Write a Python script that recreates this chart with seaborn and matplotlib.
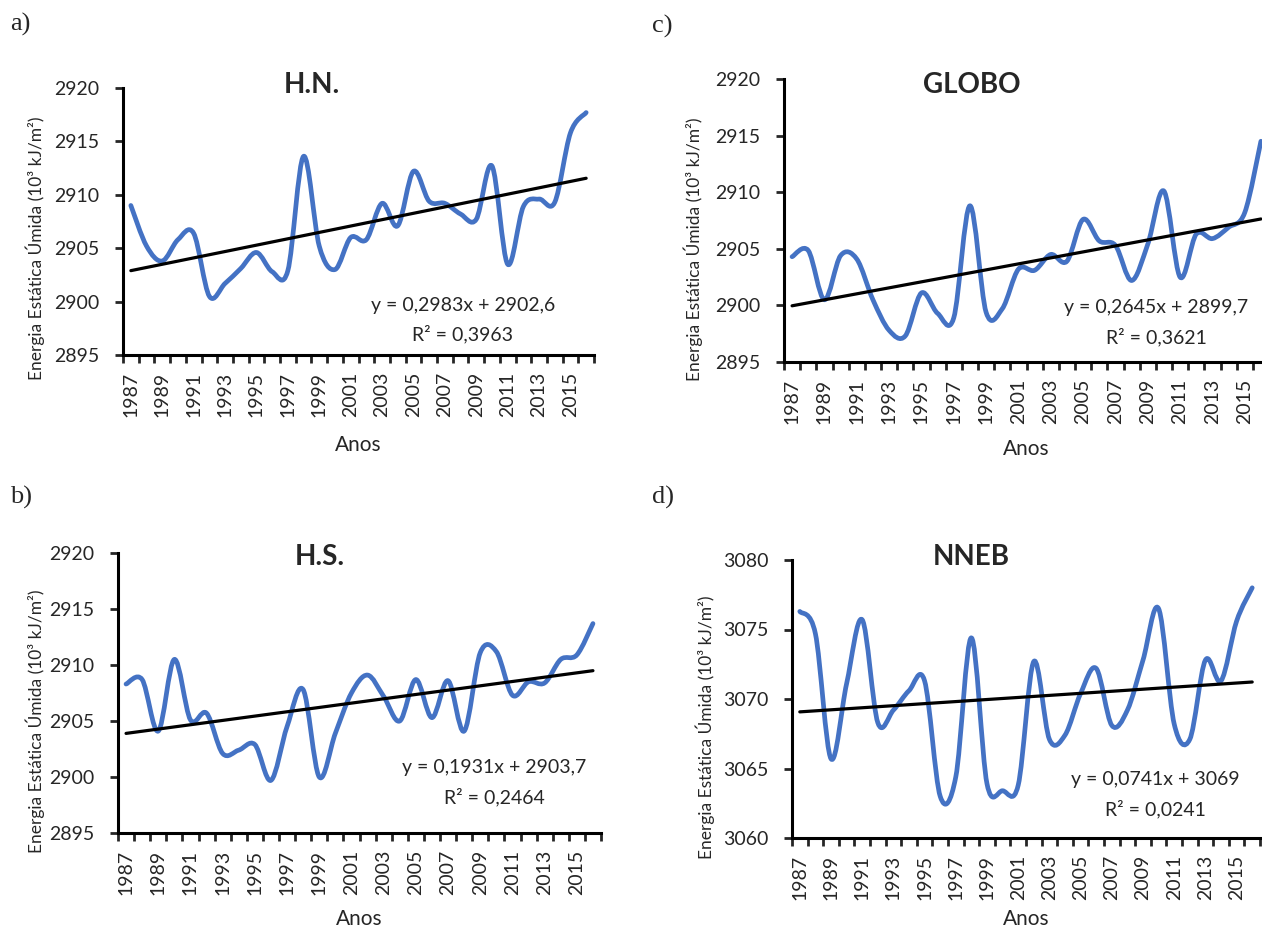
import numpy as np
import pandas as pd
import seaborn as sns
import matplotlib.pyplot as plt
from matplotlib.path import Path
from matplotlib.patches import PathPatch

# anos 1987-2016
years = np.arange(1987, 2017)

# energia estática úmida (10^3 kJ/m2)
hn = [2909.0, 2905.2, 2903.8, 2905.8, 2906.4, 2900.5, 2901.7, 2903.1, 2904.6, 2902.8,
      2902.9, 2913.6, 2905.2, 2903.0, 2906.0, 2905.8, 2909.2, 2907.1, 2912.2, 2909.4,
      2909.2, 2908.2, 2907.7, 2912.7, 2903.5, 2908.9, 2909.6, 2909.3, 2915.8, 2917.7]
hs = [2908.3, 2908.7, 2904.1, 2910.5, 2905.1, 2905.7, 2902.1, 2902.4, 2902.9, 2899.7,
      2904.5, 2907.8, 2900.0, 2903.9, 2907.5, 2909.1, 2907.2, 2905.0, 2908.7, 2905.3,
      2908.6, 2904.1, 2911.1, 2911.2, 2907.3, 2908.5, 2908.4, 2910.5, 2910.9, 2913.7]
globo = [2904.3, 2904.85, 2900.5, 2904.4, 2904.1, 2900.5, 2897.8, 2897.3, 2901.1, 2899.3,
         2898.9, 2908.8, 2899.4, 2899.7, 2903.2, 2903.1, 2904.5, 2903.9, 2907.6, 2905.7,
         2905.3, 2902.2, 2905.4, 2910.1, 2902.5, 2906.3, 2905.9, 2906.9, 2908.2, 2914.5]
nneb = [3076.3, 3074.7, 3065.7, 3071.1, 3075.7, 3068.3, 3069.2, 3070.6, 3071.3, 3063.0,
        3064.4, 3074.4, 3063.9, 3063.4, 3063.8, 3072.7, 3067.1, 3067.4, 3070.4, 3072.2,
        3068.1, 3069.2, 3072.8, 3076.5, 3068.2, 3067.1, 3072.8, 3071.3, 3075.6, 3078.0]

# tendência linear (x = 1..30), como nas equações do gráfico
slopes = [0.2983, 0.1931, 0.2645, 0.0741]
intercepts = [2902.6, 2903.7, 2899.7, 3069]
r2_labels = ["0,3963", "0,2464", "0,3621", "0,0241"]
eq_labels = ["y = 0,2983x + 2902,6", "y = 0,1931x + 2903,7",
             "y = 0,2645x + 2899,7", "y = 0,0741x + 3069"]
titles = ["H.N.", "H.S.", "GLOBO", "NNEB"]
letters = ["a)", "b)", "c)", "d)"]
ylims = [(2895, 2920), (2895, 2920), (2895, 2920), (3060, 3080)]
series = [hn, hs, globo, nneb]

sns.set_style("ticks")
plt.rcParams["font.family"] = ["Lato", "DejaVu Sans"]

W, H = 1262, 933
fig = plt.figure(figsize=(W / 100, H / 100), dpi=100)
fig.patch.set_facecolor("white")


def px(x, y):
    return x / W, 1 - y / H


# caixas dos eixos em pixels: esquerda, direita, topo, base
boxes = [(123, 594, 88, 355), (118, 601, 553, 833),
         (784, 1269, 79, 362), (792, 1260, 560, 838)]
title_pos = [(312, 85), (320, 557), (972, 85), (971, 557)]
letter_pos = [(10, 24), (10, 497), (652, 26), (652, 497)]
eq_pos = [(463, 305), (494, 768), (1156, 308), (1155, 780)]
ylab_x = [35, 35, 693, 705]
anos_y = [445, 919, 449, 919]


def smooth_path(x, y):
    # curva suavizada estilo Excel (Bezier de Catmull-Rom)
    pts = np.column_stack([x, y]).astype(float)
    n = len(pts)
    verts, codes = [pts[0]], [Path.MOVETO]
    for i in range(n - 1):
        p0 = pts[i - 1] if i > 0 else pts[i]
        p1, p2 = pts[i], pts[i + 1]
        p3 = pts[i + 2] if i + 2 < n else pts[i + 1]
        verts += [p1 + (p2 - p0) / 6, p2 - (p3 - p1) / 6, p2]
        codes += [Path.CURVE4] * 3
    return Path(verts, codes)


for k in range(4):
    l, r, t, b = boxes[k]
    ax = fig.add_axes([l / W, 1 - b / H, (r - l) / W, (b - t) / H])
    df = pd.DataFrame({"ano": years, "valor": series[k]})
    df["tendencia"] = intercepts[k] + slopes[k] * (np.arange(len(years)) + 1)

    ax.add_patch(PathPatch(smooth_path(df["ano"], df["valor"]), fill=False,
                           edgecolor="#4472C4", lw=3.4, capstyle="round",
                           joinstyle="round", zorder=3))
    sns.lineplot(data=df, x="ano", y="tendencia", ax=ax, color="black",
                 lw=2.3, zorder=4)

    ax.set_xlim(1986.5, 2016.5)
    ax.set_ylim(*ylims[k])
    ax.set_yticks(np.arange(ylims[k][0], ylims[k][1] + 1, 5))
    ax.set_xticks(np.arange(1986.5, 2017, 1))
    ax.set_xticklabels([])
    ax.set_xticks(np.arange(1987, 2016, 2), minor=True)
    ax.set_xticklabels([str(v) for v in range(1987, 2016, 2)], minor=True,
                       rotation=90, fontsize=14)
    ax.tick_params(axis="x", which="major", length=6, width=2, direction="out")
    ax.tick_params(axis="x", which="minor", length=0, pad=12)
    ax.tick_params(axis="y", length=6, width=2, direction="out", pad=11,
                   labelsize=14)
    for s in ["top", "right"]:
        ax.spines[s].set_visible(False)
    for s in ["left", "bottom"]:
        ax.spines[s].set_linewidth(2.2)
        ax.spines[s].set_color("black")
    ax.set_xlabel("")
    ax.set_ylabel("")
    ax.grid(False)

    cx = (l + r) / 2
    fig.text(*px(cx, anos_y[k]), "Anos", ha="center", va="center", fontsize=15)
    fig.text(*px(ylab_x[k], b - 0.4 * (b - t)), "Energia Estática Úmida (10³ kJ/m²)",
             rotation=90, ha="center", va="center", fontsize=12.5)
    fig.text(*px(*title_pos[k]), titles[k], ha="center", va="center",
             fontsize=20, fontweight="bold")
    fig.text(*px(*letter_pos[k]), letters[k], ha="left", va="center",
             fontsize=19, family=["Liberation Serif", "DejaVu Serif"])
    ex, ey = eq_pos[k]
    fig.text(*px(ex, ey), eq_labels[k], ha="center", va="center", fontsize=14)
    fig.text(*px(ex, ey + 29), "R² = " + r2_labels[k], ha="center", va="center",
             fontsize=14)

fig.savefig("out.png", dpi=100)
